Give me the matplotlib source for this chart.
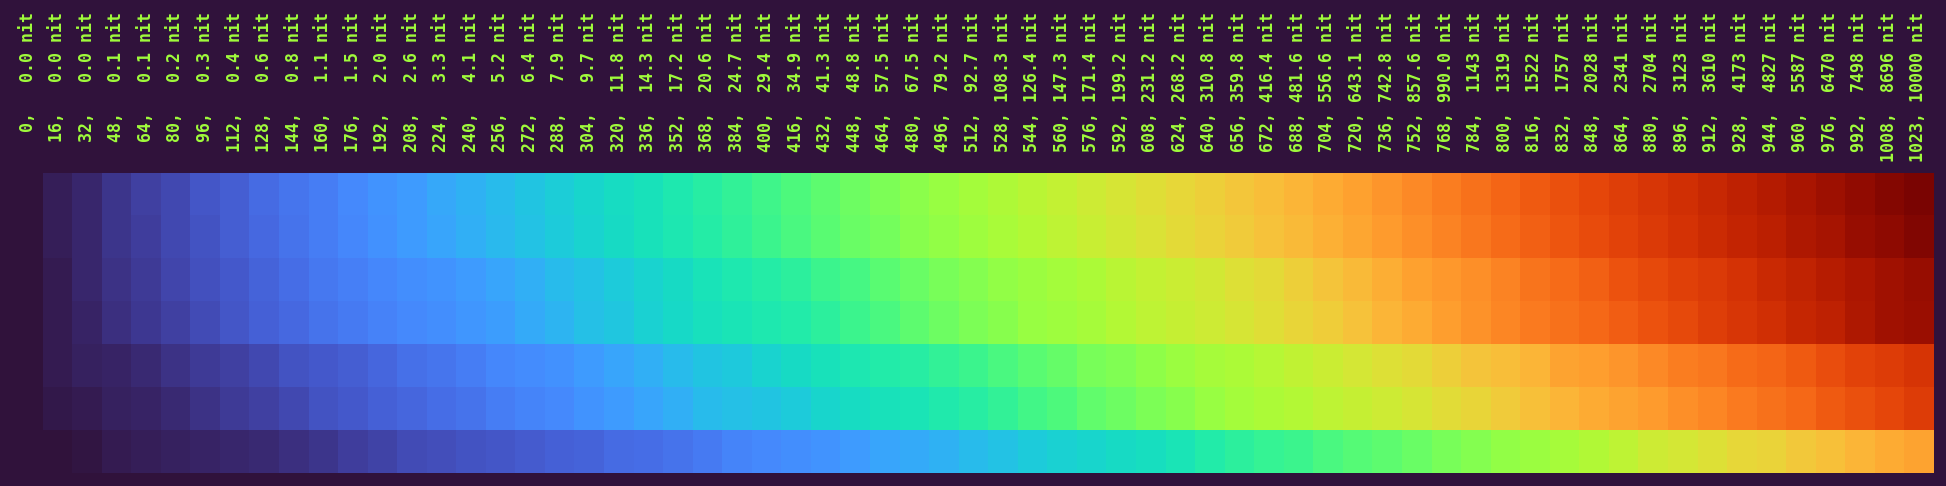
import numpy as np
import matplotlib
matplotlib.use("Agg")
from matplotlib import pyplot as plt
from matplotlib import transforms

# ---Daten---

codes = [0, 16, 32, 48, 64, 80, 96, 112, 128, 144, 160, 176, 192, 208, 224, 240,
         256, 272, 288, 304, 320, 336, 352, 368, 384, 400, 416, 432, 448, 464, 480, 496,
         512, 528, 544, 560, 576, 592, 608, 624, 640, 656, 672, 688, 704, 720, 736, 752,
         768, 784, 800, 816, 832, 848, 864, 880, 896, 912, 928, 944, 960, 976, 992, 1008,
         1023]

nits = ["0.0", "0.0", "0.0", "0.1", "0.1", "0.2", "0.3", "0.4", "0.6", "0.8", "1.1",
        "1.5", "2.0", "2.6", "3.3", "4.1", "5.2", "6.4", "7.9", "9.7", "11.8", "14.3",
        "17.2", "20.6", "24.7", "29.4", "34.9", "41.3", "48.8", "57.5", "67.5", "79.2",
        "92.7", "108.3", "126.4", "147.3", "171.4", "199.2", "231.2", "268.2", "310.8",
        "359.8", "416.4", "481.6", "556.6", "643.1", "742.8", "857.6", "990.0", "1143",
        "1319", "1522", "1757", "2028", "2341", "2704", "3123", "3610", "4173", "4827",
        "5587", "6470", "7498", "8696", "10000"]

row1 = [0, .016, .031, .047, .063, .078, .094, .109, .125, .141, .156, .172, .188, .203,
        .219, .235, .250, .266, .282, .297, .313, .328, .344, .360, .375, .391, .407, .422,
        .438, .454, .469, .485, .500, .516, .532, .547, .563, .579, .594, .610, .626, .641,
        .657, .672, .688, .704, .719, .735, .751, .766, .782, .797, .813, .829, .844, .860,
        .876, .891, .907, .922, .938, .954, .969, .985, 1.0]
row2 = [0, .016, .031, .047, .062, .077, .093, .108, .124, .139, .155, .170, .186, .201,
        .217, .232, .248, .263, .279, .294, .310, .325, .341, .356, .372, .387, .403, .418,
        .434, .449, .465, .480, .496, .511, .527, .542, .558, .573, .589, .604, .620, .635,
        .651, .666, .682, .697, .713, .728, .744, .759, .775, .790, .806, .821, .837, .852,
        .868, .883, .899, .914, .930, .945, .961, .976, .990]
row3 = [0, .015, .030, .043, .057, .072, .087, .100, .117, .132, .145, .157, .170, .180,
        .190, .200, .215, .232, .250, .265, .278, .295, .310, .330, .345, .357, .370, .390,
        .400, .418, .435, .450, .463, .478, .492, .500, .512, .535, .548, .560, .572, .590,
        .605, .625, .645, .665, .685, .705, .718, .730, .745, .763, .775, .792, .810, .825,
        .840, .855, .870, .890, .905, .920, .937, .952, .963]
row4 = [0, .014, .027, .040, .052, .066, .080, .094, .110, .124, .137, .150, .163, .172,
        .183, .195, .207, .225, .240, .258, .272, .290, .305, .322, .335, .345, .355, .370,
        .388, .405, .425, .440, .455, .468, .485, .495, .505, .525, .540, .553, .565, .580,
        .597, .615, .632, .650, .672, .690, .710, .725, .740, .755, .768, .780, .795, .810,
        .828, .845, .860, .875, .895, .910, .930, .950, .960]
row5 = [0, .012, .020, .027, .033, .045, .055, .065, .078, .090, .100, .108, .120, .135,
        .143, .155, .168, .178, .187, .200, .217, .232, .250, .266, .275, .295, .310, .325,
        .340, .352, .362, .375, .390, .403, .418, .432, .450, .460, .475, .490, .505, .515,
        .530, .545, .560, .575, .590, .605, .625, .645, .660, .675, .700, .710, .720, .735,
        .750, .760, .775, .785, .800, .818, .838, .850, .865]
row6 = [0, .008, .014, .020, .026, .035, .045, .055, .065, .077, .090, .100, .110, .120,
        .130, .140, .153, .165, .175, .188, .200, .218, .233, .250, .260, .268, .280, .300,
        .315, .325, .335, .350, .362, .375, .395, .410, .428, .440, .455, .468, .485, .500,
        .512, .525, .540, .553, .565, .580, .600, .615, .635, .655, .675, .688, .700, .712,
        .728, .742, .755, .768, .780, .800, .815, .832, .848]
row7 = [0, .003, .007, .012, .016, .020, .025, .030, .035, .040, .050, .060, .070, .080,
        .085, .090, .097, .105, .110, .117, .125, .130, .137, .150, .165, .172, .180, .190,
        .200, .215, .225, .235, .250, .265, .278, .290, .300, .310, .320, .335, .355, .370,
        .380, .390, .405, .415, .425, .437, .450, .463, .477, .490, .505, .520, .540, .5625,
        .575, .590, .610, .620, .638, .655, .675, .690, .700]

# ---Plot---

W, H = 1946, 486
bg = plt.cm.turbo(0.0)
fig = plt.figure(figsize=(W / 100, H / 100), dpi=100, facecolor=bg)

# Feld: x 13..1933 px, y 173..473 px (von oben)
ax = fig.add_axes([13 / W, (H - 473) / H, 1920 / W, 300 / H])
werte = np.array([row1, row2, row3, row4, row5, row6, row7])
ax.imshow(werte, cmap="turbo", vmin=0, vmax=1, aspect="auto", interpolation="nearest")
ax.set_axis_off()

# Beschriftung über jeder Spalte, senkrecht
trans = transforms.blended_transform_factory(ax.transData, fig.transFigure)
textfarbe = "#a0fc3c"
for i, (c, n) in enumerate(zip(codes, nits)):
    ax.text(i, 1 - 12 / H, f"{c:>4},{n:>6} nit", transform=trans, rotation=90,
            ha="center", va="top", family="DejaVu Sans Mono", fontsize=12,
            fontweight="bold", color=textfarbe, clip_on=False)

fig.savefig("out.png", dpi=100, facecolor=bg)
